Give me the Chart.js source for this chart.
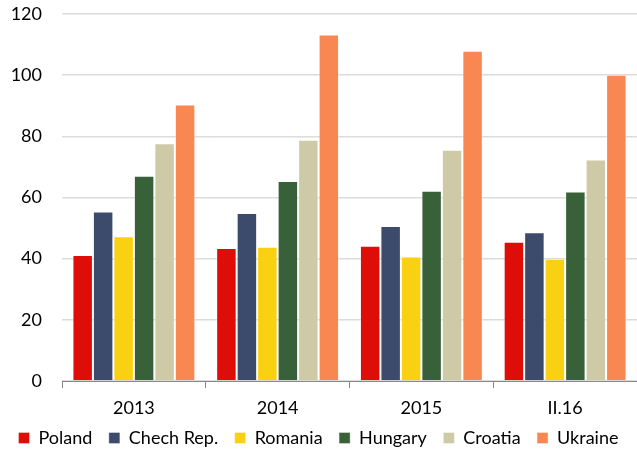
<!DOCTYPE html>
<html>
<head>
<meta charset="utf-8">
<script src="https://cdn.jsdelivr.net/npm/chart.js@4/dist/chart.umd.min.js"></script>
<style>
  html, body { margin: 0; padding: 0; background: #fff; }
  #wrap { width: 637px; height: 452px; }
</style>
</head>
<body>
<div id="wrap"><canvas id="chart" width="637" height="452"></canvas></div>
<script>
const periods = ['2013', '2014', '2015', 'II.16'];
const countries = ['Poland', 'Chech Rep.', 'Romania', 'Hungary', 'Croatia', 'Ukraine'];
const colors = ['#de0d07', '#3c4a6c', '#fad012', '#386139', '#cfcaa6', '#f98752'];

const poland  = [41.2, 43.5, 44.2, 45.5];
const chech   = [55.4, 54.9, 50.7, 48.6];
const romania = [47.3, 43.9, 40.7, 40.0];
const hungary = [67.1, 65.4, 62.2, 62.0];
const croatia = [77.7, 78.9, 75.6, 72.4];
const ukraine = [90.4, 113.3, 108.0, 100.1];

const yTicks = [0, 20, 40, 60, 80, 100, 120];

const series = [poland, chech, romania, hungary, croatia, ukraine];
const font = "Lato, 'Noto Sans', sans-serif";

const ctx = document.getElementById('chart').getContext('2d');
new Chart(ctx, {
    type: 'bar',
    data: {
        labels: periods,
        datasets: series.map((d, i) => ({
            label: countries[i],
            data: d,
            backgroundColor: colors[i],
            borderColor: 'rgba(255,255,255,0.35)',
            borderWidth: 1,
            barPercentage: 1,
            categoryPercentage: 0.855
        }))
    },
    options: {
        responsive: false,
        animation: false,
        layout: { padding: { top: 14, right: 0, left: 0, bottom: -5 } },
        plugins: {
            tooltip: { enabled: false },
            legend: {
                position: 'bottom',
                labels: {
                    font: { family: font, size: 18 },
                    color: '#000',
                    boxWidth: 11,
                    boxHeight: 11,
                    padding: 5,
                    useBorderRadius: false,
                    // extra gap after each item except the last
                    generateLabels: chart => Chart.defaults.plugins.legend.labels.generateLabels(chart)
                        .map((l, i, all) => ({ ...l, text: i < all.length - 1 ? l.text + '  \u2009' : l.text }))
                }
            }
        },
        scales: {
            x: {
                afterFit: s => { s.height = 43; },
                grid: {
                    offset: true,
                    drawOnChartArea: false,
                    tickLength: 7,
                    color: '#888'
                },
                border: { color: '#888', width: 1 },
                ticks: {
                    font: { family: font, size: 18 },
                    color: '#000',
                    padding: 9
                }
            },
            y: {
                min: 0,
                max: 120,
                afterBuildTicks: s => { s.ticks = yTicks.map(v => ({ value: v })); },
                afterFit: s => { s.width = 62; s.paddingTop = 0; s.paddingBottom = 0; },
                grid: { color: '#dcdcdc', lineWidth: 1.5, drawTicks: false },
                border: { display: false },
                ticks: {
                    font: { family: font, size: 18 },
                    color: '#000',
                    padding: 20
                }
            }
        }
    }
});
</script>
</body>
</html>
